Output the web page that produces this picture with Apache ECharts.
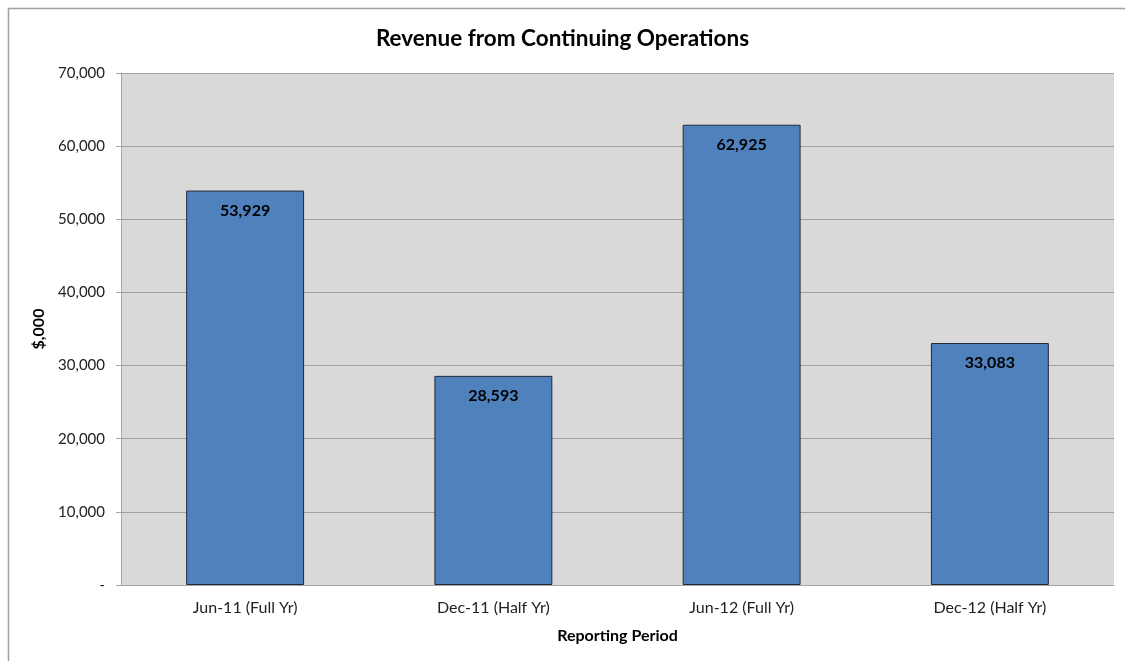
<!DOCTYPE html>
<html>
<head>
<meta charset="utf-8">
<script src="https://cdn.jsdelivr.net/npm/echarts@6/dist/echarts.min.js"></script>
<style>
  html, body { margin: 0; padding: 0; background: #fff; }
  #chart { width: 1125px; height: 661px; }
</style>
</head>
<body>
<div id="chart"></div>
<script>
const periods = ['Jun-11 (Full Yr)', 'Dec-11 (Half Yr)', 'Jun-12 (Full Yr)', 'Dec-12 (Half Yr)'];
const revenue = [53929, 28593, 62925, 33083];

const font = 'Lato, "Open Sans", sans-serif';
let chart = echarts.init(document.getElementById('chart'));

const option = {
    animation: false,
    title: {
        text: 'Revenue from Continuing Operations',
        left: 'center',
        top: 22,
        textStyle: { fontFamily: font, fontSize: 22.5, fontWeight: 'bold', color: '#000' }
    },
    graphic: [
        {
            type: 'rect',
            shape: { x: 8.5, y: 8.5, width: 1200, height: 700 },
            style: { fill: 'none', stroke: '#a0a0a0', lineWidth: 1.5 },
            silent: true
        }
    ],
    grid: {
        left: 121,
        right: 11,
        top: 73,
        bottom: 76,
        show: true,
        backgroundColor: '#d9d9d9',
        borderWidth: 0
    },
    xAxis: {
        type: 'category',
        data: periods,
        name: 'Reporting Period',
        nameLocation: 'middle',
        nameGap: 43,
        nameTextStyle: { fontFamily: font, fontSize: 16, fontWeight: 'bold', color: '#000' },
        axisLine: { lineStyle: { color: '#a6a6a6', width: 1 } },
        axisTick: { show: false },
        axisLabel: { fontFamily: font, fontSize: 16, color: '#222', margin: 15 }
    },
    yAxis: {
        type: 'value',
        min: 0,
        max: 70000,
        interval: 10000,
        name: '$,000',
        nameLocation: 'middle',
        nameGap: 74,
        nameTextStyle: { fontFamily: font, fontSize: 16, fontWeight: 'bold', color: '#000' },
        axisLine: { show: true, lineStyle: { color: '#a6a6a6', width: 1 } },
        axisTick: { show: true, length: 5, lineStyle: { color: '#a6a6a6' } },
        axisLabel: {
            fontFamily: font,
            fontSize: 15,
            color: '#222',
            margin: 16,
            formatter: function (v) {
                return v === 0 ? '-' : v.toLocaleString('en-US');
            }
        },
        splitLine: { lineStyle: { color: '#a0a0a0', width: 1 } }
    },
    series: [
        {
            type: 'bar',
            data: revenue,
            barWidth: '47.5%',
            itemStyle: { color: '#4f81bd', borderColor: '#1f2a38', borderWidth: 1 },
            label: {
                show: true,
                position: 'insideTop',
                distance: 12,
                fontFamily: font,
                fontSize: 16,
                fontWeight: 'bold',
                color: '#000',
                formatter: function (p) {
                    return p.value.toLocaleString('en-US');
                }
            }
        }
    ]
};

chart.setOption(option);
</script>
</body>
</html>
